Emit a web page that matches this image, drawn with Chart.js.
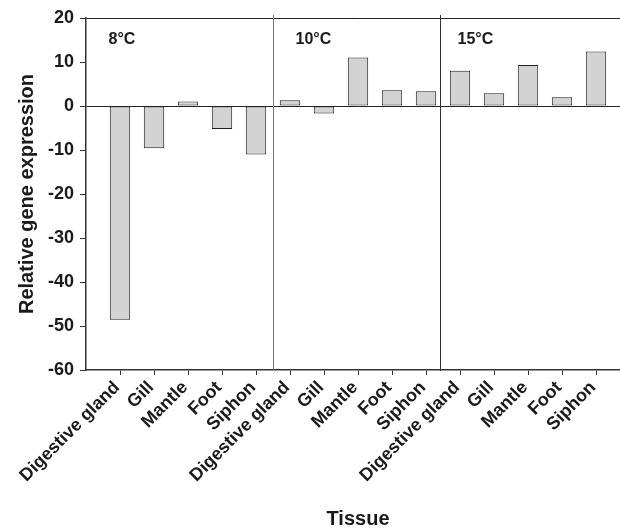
<!DOCTYPE html>
<html>
<head>
<meta charset="utf-8">
<title>Relative gene expression by tissue</title>
<script src="https://cdn.jsdelivr.net/npm/chart.js@4/dist/chart.umd.min.js"></script>
<style>
    html, body { margin: 0; padding: 0; background: #fff; overflow: hidden; }
    #wrap { width: 620px; height: 531px; overflow: hidden; }
</style>
</head>
<body>
<div id="wrap"><canvas id="chart" width="630" height="531"></canvas></div>
<script>
// Veriler
const groups = ['8°C', '10°C', '15°C'];
const tissues = ['Digestive gland', 'Gill', 'Mantle', 'Foot', 'Siphon'];
const expr8 = [-48.6, -9.6, 1.0, -5.2, -11.0];
const expr10 = [1.3, -1.7, 11.0, 3.6, 3.35];
const expr15 = [8.0, 2.9, 9.3, 2.0, 12.4];
const yTicks = [20, 10, 0, -10, -20, -30, -40, -50, -60];
// group borders on the x value scale (bar i sits at i + 1)
const groupBreaks = [0, 5.5, 10.4];

const FONT = 'Arial, "Liberation Sans", Helvetica, sans-serif';
const allValues = [expr8, expr10, expr15];
const xLabels = [];
const barData = [];
allValues.forEach(series => {
    series.forEach((v, i) => {
        xLabels.push(tissues[i]);
        barData.push({ x: barData.length + 1, y: v });
    });
});

// Grup çizgileri ve etiketleri
const groupPlugin = {
    id: 'groupPlugin',
    afterDatasetsDraw(chart) {
        const { ctx, chartArea, scales } = chart;
        const labelPad = [22, 22, 17];
        ctx.save();
        groupBreaks.forEach((b, i) => {
            const px = Math.round(scales.x.getPixelForValue(b)) + 0.5;
            if (i > 0) {
                ctx.strokeStyle = i === 1 ? '#7a7a7a' : '#333';
                ctx.lineWidth = 1;
                ctx.beginPath();
                ctx.moveTo(px, chartArea.top - 3);
                ctx.lineTo(px, chartArea.bottom + 1);
                ctx.stroke();
            }
            ctx.fillStyle = '#1a1a1a';
            ctx.font = 'bold 16px ' + FONT;
            ctx.textAlign = 'left';
            ctx.textBaseline = 'alphabetic';
            ctx.fillText(groups[i], px + labelPad[i], chartArea.top + 26);
        });
        ctx.restore();
    }
};

new Chart(document.getElementById('chart'), {
    type: 'bar',
    data: {
        datasets: [{
            data: barData,
            backgroundColor: '#d3d3d3',
            borderColor: '#1e1e1e',
            borderWidth: 1,
            borderSkipped: false,
            categoryPercentage: 1,
            barPercentage: 0.6
        }]
    },
    options: {
        responsive: false,
        animation: false,
        devicePixelRatio: 1,
        layout: { padding: { top: 18, right: 0, bottom: 0, left: 0 } },
        plugins: {
            legend: { display: false },
            tooltip: { enabled: false }
        },
        scales: {
            x: {
                type: 'linear',
                offset: false,
                min: 0,
                max: groups.length * tissues.length + 1,
                afterBuildTicks: scale => {
                    scale.ticks = xLabels.map((_, i) => ({ value: i + 1 }));
                },
                afterFit: scale => { scale.height = 161; },
                grid: {
                    offset: false,
                    drawOnChartArea: false,
                    tickLength: 5,
                    tickColor: '#333'
                },
                border: { color: '#333', width: 1.5 },
                ticks: {
                    autoSkip: false,
                    maxRotation: 45,
                    minRotation: 45,
                    padding: 2,
                    labelOffset: -3,
                    color: '#1a1a1a',
                    font: { family: FONT, size: 18, weight: 'bold' },
                    callback: v => xLabels[Math.round(v) - 1] || ''
                },
                title: {
                    display: true,
                    text: 'Tissue',
                    color: '#1a1a1a',
                    font: { family: FONT, size: 20, weight: 'bold' },
                    padding: { top: 0, bottom: 0 }
                }
            },
            y: {
                min: -60,
                max: 20,
                afterBuildTicks: scale => {
                    scale.ticks = yTicks.map(v => ({ value: v }));
                },
                afterFit: scale => { scale.width = 86; },
                grid: {
                    color: c => (c.tick && (c.tick.value === 0 || c.tick.value === 20)) ? '#222' : 'rgba(0,0,0,0)',
                    tickColor: '#333',
                    tickLength: 6
                },
                border: { color: '#333', width: 1.5 },
                ticks: {
                    padding: 6,
                    color: '#1a1a1a',
                    font: { family: FONT, size: 18, weight: 'bold' }
                },
                title: {
                    display: true,
                    text: 'Relative gene expression',
                    color: '#1a1a1a',
                    font: { family: FONT, size: 20, weight: 'bold' },
                    padding: { top: 15, bottom: 0 }
                }
            }
        }
    },
    plugins: [groupPlugin]
});
</script>
</body>
</html>
